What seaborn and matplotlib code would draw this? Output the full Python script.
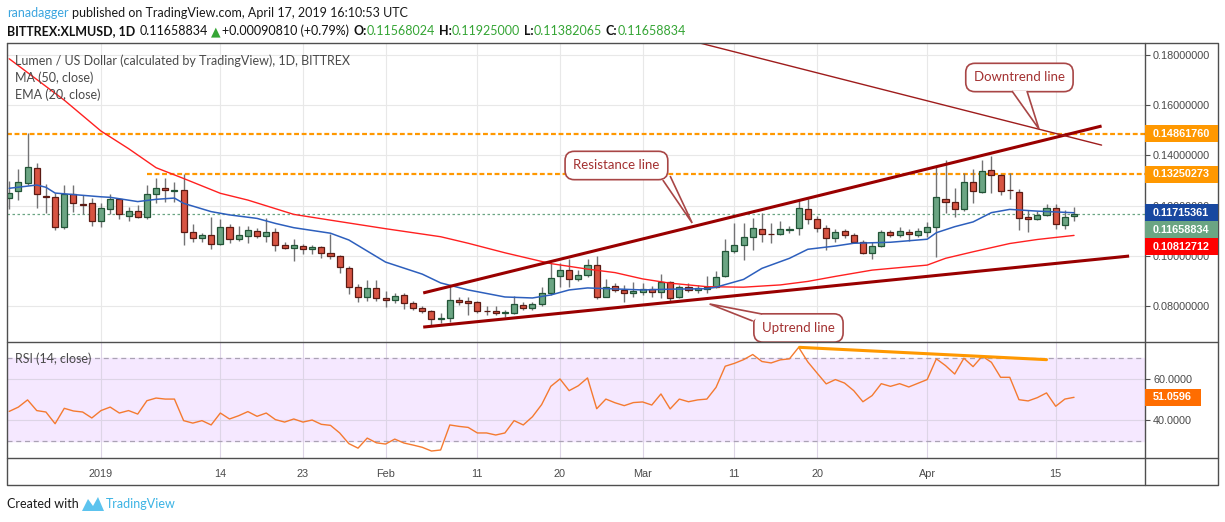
import numpy as np
import pandas as pd
import matplotlib.pyplot as plt
import seaborn as sns
from matplotlib.patches import Rectangle, Polygon
from matplotlib.lines import Line2D

W, H = 1225, 522

# ---- daily candles XLM/USD (Bittrex), Dec 22 2018 .. Apr 17 2019 ----
dates = pd.date_range("2018-12-22", "2019-04-17", freq="D")
opens = [
    0.1229, 0.1258, 0.1289, 0.1349, 0.1239, 0.1233, 0.1116, 0.1245, 0.1205, 0.1209,
    0.1137, 0.1185, 0.1225, 0.1160, 0.1177, 0.1153, 0.1245, 0.1269, 0.1260, 0.1261,
    0.1093, 0.1070, 0.1081, 0.1046, 0.1113, 0.1066, 0.1077, 0.1097, 0.1077, 0.1093,
    0.1042, 0.1030, 0.1038, 0.1026, 0.1034, 0.1010, 0.0999, 0.0950, 0.0874, 0.0835, 0.0870,
    0.0831, 0.0823, 0.0843, 0.0811, 0.0793, 0.0780, 0.0747, 0.0751, 0.0824, 0.0820,
    0.0815, 0.0781, 0.0780, 0.0773, 0.0771, 0.0804, 0.0791, 0.0808, 0.0851, 0.0920,
    0.0943, 0.0908, 0.0925, 0.0962, 0.0837, 0.0878, 0.0864, 0.0853,
    0.0857, 0.0866, 0.0854, 0.0894, 0.0835, 0.0874, 0.0862, 0.0866, 0.0874, 0.0920,
    0.1020, 0.1042, 0.1074, 0.1105, 0.1088, 0.1086, 0.1104, 0.1109, 0.1185, 0.1145,
    0.1109, 0.1070, 0.1097, 0.1082, 0.1056, 0.1010, 0.1039, 0.1094, 0.1084, 0.1094, 0.1084,
    0.1095, 0.1113, 0.1228, 0.1216, 0.1185, 0.1293, 0.1255, 0.1341, 0.1322, 0.1263,
    0.1255, 0.1156, 0.1147, 0.1163, 0.1189, 0.1124, 0.11568024,
]
highs = [
    0.1298, 0.1345, 0.1488, 0.1368, 0.1286, 0.1249, 0.1282, 0.1282, 0.1242, 0.1232,
    0.1209, 0.1246, 0.1229, 0.1193, 0.1202, 0.1282, 0.1309, 0.1309, 0.1295, 0.1326,
    0.1125, 0.1089, 0.1153, 0.1147, 0.1125, 0.1119, 0.1119, 0.1109, 0.1149, 0.1109,
    0.1056, 0.1067, 0.1046, 0.1042, 0.1039, 0.1085, 0.1003, 0.0959, 0.0888, 0.0904, 0.0904,
    0.0860, 0.0851, 0.0851, 0.0819, 0.0800, 0.0784, 0.0771, 0.0880, 0.0835, 0.0835,
    0.0821, 0.0800, 0.0800, 0.0784, 0.0840, 0.0817, 0.0817, 0.0877, 0.0970, 0.0973,
    0.0986, 0.0943, 0.0987, 0.0999, 0.0906, 0.0890, 0.0884, 0.0897,
    0.0893, 0.0880, 0.0926, 0.0900, 0.0884, 0.0890, 0.0884, 0.0920, 0.0941, 0.1066,
    0.1129, 0.1129, 0.1149, 0.1169, 0.1129, 0.1140, 0.1119, 0.1222, 0.1225, 0.1159,
    0.1123, 0.1105, 0.1105, 0.1090, 0.1063, 0.1056, 0.1103, 0.1103, 0.1116, 0.1105, 0.1109,
    0.1136, 0.1355, 0.1382, 0.1269, 0.1329, 0.1345, 0.1382, 0.1398, 0.1325, 0.1329,
    0.1265, 0.1182, 0.1180, 0.1206, 0.1206, 0.1182, 0.11925000,
]
lows = [
    0.1186, 0.1222, 0.1282, 0.1192, 0.1169, 0.1103, 0.1105, 0.1176, 0.1167, 0.1120,
    0.1116, 0.1165, 0.1145, 0.1140, 0.1149, 0.1145, 0.1209, 0.1216, 0.1216, 0.1043,
    0.1056, 0.1056, 0.1026, 0.1043, 0.1052, 0.1059, 0.1052, 0.1070, 0.1054, 0.1020,
    0.1026, 0.0981, 0.1007, 0.1007, 0.0993, 0.0986, 0.0930, 0.0848, 0.0817, 0.0821, 0.0821,
    0.0797, 0.0813, 0.0788, 0.0784, 0.0771, 0.0724, 0.0733, 0.0738, 0.0803, 0.0763,
    0.0773, 0.0763, 0.0763, 0.0757, 0.0768, 0.0784, 0.0784, 0.0800, 0.0844, 0.0874,
    0.0874, 0.0901, 0.0917, 0.0827, 0.0835, 0.0857, 0.0817, 0.0837,
    0.0844, 0.0835, 0.0831, 0.0821, 0.0831, 0.0857, 0.0853, 0.0851, 0.0870, 0.0914,
    0.1012, 0.0983, 0.1023, 0.1056, 0.1052, 0.1082, 0.1090, 0.1083, 0.1127, 0.1096,
    0.1023, 0.1056, 0.1070, 0.1050, 0.1007, 0.0986, 0.1036, 0.1074, 0.1074, 0.1060, 0.1074,
    0.1076, 0.0996, 0.1172, 0.1153, 0.1180, 0.1209, 0.1249, 0.1249, 0.1242, 0.1225,
    0.1103, 0.1096, 0.1143, 0.1159, 0.1105, 0.1105, 0.11382065,
]
closes = [
    0.1252, 0.1293, 0.1353, 0.1245, 0.1233, 0.1116, 0.1245, 0.1209, 0.1201, 0.1137,
    0.1189, 0.1225, 0.1167, 0.1177, 0.1153, 0.1245, 0.1269, 0.1261, 0.1262, 0.1093,
    0.1070, 0.1081, 0.1046, 0.1113, 0.1066, 0.1081, 0.1101, 0.1077, 0.1093, 0.1042,
    0.1030, 0.1042, 0.1026, 0.1034, 0.1010, 0.1000, 0.0954, 0.0874, 0.0835, 0.0870, 0.0831,
    0.0823, 0.0839, 0.0811, 0.0791, 0.0780, 0.0747, 0.0753, 0.0824, 0.0816, 0.0813,
    0.0780, 0.0779, 0.0771, 0.0777, 0.0807, 0.0791, 0.0807, 0.0851, 0.0910, 0.0943,
    0.0906, 0.0922, 0.0962, 0.0837, 0.0877, 0.0862, 0.0851, 0.0860,
    0.0866, 0.0854, 0.0894, 0.0833, 0.0874, 0.0862, 0.0870, 0.0874, 0.0917, 0.1020,
    0.1042, 0.1074, 0.1109, 0.1086, 0.1086, 0.1105, 0.1108, 0.1189, 0.1145, 0.1109,
    0.1072, 0.1094, 0.1082, 0.1056, 0.1010, 0.1039, 0.1094, 0.1082, 0.1097, 0.1086, 0.1097,
    0.1113, 0.1233, 0.1216, 0.1185, 0.1293, 0.1259, 0.1338, 0.1322, 0.1259, 0.1261,
    0.1149, 0.1148, 0.1164, 0.1189, 0.1127, 0.1156, 0.11658834,
]
rsi_vals = [
    44.2, 46.3, 49.8, 44.6, 43.9, 38.2, 45.7, 44.4, 43.9, 41.0,
    44.6, 46.3, 43.4, 44.6, 42.9, 49.4, 50.7, 50.2, 50.2, 39.7,
    38.5, 39.7, 37.6, 43.4, 40.5, 42.1, 44.1, 41.8, 43.4, 40.2,
    39.0, 40.5, 39.0, 40.0, 37.9, 37.4, 33.7, 28.5, 26.3, 31.2,
    28.9, 28.3, 30.7, 28.8, 27.8, 26.7, 24.9, 25.4, 37.6, 36.9,
    36.4, 33.7, 33.7, 32.7, 33.7, 39.7, 37.6, 41.6, 47.5, 56.4,
    60.0, 54.3, 56.7, 60.5, 45.5, 50.2, 48.4, 47.0, 48.5, 48.8,
    47.3, 52.7, 45.4, 50.2, 48.9, 49.8, 50.2, 55.9, 66.2, 67.6,
    69.4, 71.9, 68.5, 67.8, 69.3, 69.8, 75.4, 68.3, 62.9, 57.6,
    59.7, 58.0, 54.3, 48.9, 51.9, 57.7, 56.4, 57.7, 56.1, 57.9,
    59.7, 69.8, 66.5, 62.4, 70.1, 66.0, 71.1, 68.1, 60.8, 60.8,
    49.9, 49.3, 50.9, 53.2, 46.7, 50.2, 51.0596,
]

# moving averages
ma50_dates = [
    "2018-12-22", "2018-12-28", "2019-01-01", "2019-01-04", "2019-01-07", "2019-01-10",
    "2019-01-14", "2019-01-17", "2019-01-22", "2019-01-26", "2019-02-01", "2019-02-07",
    "2019-02-10", "2019-02-14", "2019-02-19", "2019-02-23", "2019-02-26", "2019-03-01",
    "2019-03-04", "2019-03-08", "2019-03-12", "2019-03-16", "2019-03-19", "2019-03-22",
    "2019-03-26", "2019-04-01", "2019-04-03", "2019-04-06", "2019-04-10", "2019-04-13",
    "2019-04-17",
]
ma50_vals = [
    0.1785, 0.1620, 0.1497, 0.1427, 0.1351, 0.1308,
    0.1249, 0.1222, 0.1165, 0.1142, 0.1108, 0.1076,
    0.1050, 0.1012, 0.0969, 0.0947, 0.0933, 0.0908,
    0.0891, 0.0877, 0.0875, 0.0884, 0.0898, 0.0918,
    0.0943, 0.0963, 0.0990, 0.1016, 0.1049, 0.1065,
    0.10812712,
]
ema20_dates = [
    "2018-12-22", "2018-12-25", "2018-12-26", "2018-12-27", "2018-12-30", "2019-01-01",
    "2019-01-02", "2019-01-05", "2019-01-07", "2019-01-09", "2019-01-10", "2019-01-13",
    "2019-01-15", "2019-01-18", "2019-01-20", "2019-01-22", "2019-01-26", "2019-01-28",
    "2019-02-01", "2019-02-05", "2019-02-07", "2019-02-10", "2019-02-14", "2019-02-17",
    "2019-02-19", "2019-02-21", "2019-02-23", "2019-02-26", "2019-03-01", "2019-03-04",
    "2019-03-08", "2019-03-09", "2019-03-12", "2019-03-14", "2019-03-17", "2019-03-19",
    "2019-03-22", "2019-03-24", "2019-03-28", "2019-04-01", "2019-04-02", "2019-04-04",
    "2019-04-06", "2019-04-08", "2019-04-10", "2019-04-13", "2019-04-17",
]
ema20_vals = [
    0.1269, 0.1282, 0.1273, 0.1250, 0.1241, 0.1235,
    0.1233, 0.1216, 0.1225, 0.1230, 0.1209, 0.1176,
    0.1163, 0.1149, 0.1129, 0.1112, 0.1090, 0.1063,
    0.0975, 0.0927, 0.0892, 0.0864, 0.0836, 0.0832,
    0.0844, 0.0864, 0.0872, 0.0868, 0.0864, 0.0867,
    0.0869, 0.0875, 0.0906, 0.0950, 0.0990, 0.1026,
    0.1039, 0.1050, 0.1054, 0.1066, 0.1092, 0.1116,
    0.1135, 0.1172, 0.1185, 0.1178, 0.11715361,
]

tick_dates = ["2019-01-01", "2019-01-14", "2019-01-23", "2019-02-01", "2019-02-11",
              "2019-02-20", "2019-03-01", "2019-03-11", "2019-03-20", "2019-04-01",
              "2019-04-15"]
tick_labels = ["2019", "14", "23", "Feb", "11", "20", "Mar", "11", "20", "Apr", "15"]
price_ticks = [0.08, 0.10, 0.12, 0.14, 0.16, 0.18]
rsi_ticks = [40, 60]

# hand drawn lines (days from 2019-01-01, price)
resistance_days, resistance_px = [35.1, 109.0], [0.0852, 0.1517]
uptrend_days, uptrend_px = [35.1, 112.0], [0.0716, 0.0999]
downtrend_days, downtrend_px = [65.2, 109.0], [0.1848, 0.1441]
level_hi, level_mid = 0.14861760, 0.13250273
level_mid_start = 5.0
divergence_days, divergence_rsi = [76.1, 103.0], [75.4, 69.4]

tag_values = [0.14861760, 0.13250273, 0.11715361, 0.11658834, 0.10812712]
tag_colors = ["#FF9800", "#FF9800", "#1848A0", "#6BA583", "#FF0000"]
rsi_last = 51.0596

# ---- helpers ----
origin = pd.Timestamp("2019-01-01")


def to_days(d):
    return ((pd.to_datetime(d) - origin) / pd.Timedelta(days=1))


x = np.asarray(to_days(dates), dtype=float)
o, h, l, c = map(np.asarray, (opens, highs, lows, closes))
up = c >= o

sns.set_theme(style="white")
plt.rcParams["font.family"] = ["Liberation Sans", "DejaVu Sans"]
TXT = ["Lato", "DejaVu Sans"]
BORDER = "#4f4f4f"
LBL = "#4a4a4a"

fig = plt.figure(figsize=(W / 100, H / 100), dpi=100)
fig.patch.set_facecolor("white")
ax = fig.add_axes([7 / W, 1 - 342 / H, 1138 / W, 299 / H])
axr = fig.add_axes([7 / W, 1 - 458 / H, 1138 / W, 116 / H])
XLIM = (-10.24, 113.73)

for a in (ax, axr):
    for s in a.spines.values():
        s.set_visible(False)
    a.set_xlim(*XLIM)
    a.set_xticks(to_days(tick_dates))
    a.yaxis.tick_right()
    a.set_axisbelow(True)

# ---- price pane ----
ax.set_ylim(0.06566, 0.18478)
ax.set_yticks(price_ticks)
ax.set_yticklabels([f"{v:.8f}" for v in price_ticks])
ax.set_xticklabels([])
ax.tick_params(axis="x", length=0)
ax.tick_params(axis="y", length=3.6, width=0.8, color=BORDER, pad=2.2,
               labelsize=7.8, labelcolor=LBL)
ax.grid(True, color="#e8e8e8", lw=0.8)

ax.hlines(level_hi, XLIM[0], XLIM[1], color="#FF9800", lw=1.6,
          linestyles=(0, (2.2, 1.2)), zorder=2)
ax.hlines(level_mid, level_mid_start, XLIM[1], color="#FF9800", lw=1.6,
          linestyles=(0, (2.2, 1.2)), zorder=2)
ax.hlines(closes[-1], XLIM[0], XLIM[1], color="#6BA583", lw=0.9,
          linestyles=(0, (2, 2)), zorder=1.5)

ax.vlines(x, l, h, color="#737375", lw=1.0, zorder=2.5)
ax.bar(x[up], (c - o)[up], bottom=o[up], width=0.66, color="#6BA583",
       edgecolor="#225437", lw=0.9, zorder=3)
ax.bar(x[~up], (o - c)[~up], bottom=c[~up], width=0.66, color="#D75442",
       edgecolor="#5B1A13", lw=0.9, zorder=3)

sns.lineplot(x=to_days(ma50_dates), y=ma50_vals, ax=ax, color="#FF2020", lw=1.0, zorder=4)
sns.lineplot(x=to_days(ema20_dates), y=ema20_vals, ax=ax, color="#2d5fbd", lw=1.1, zorder=4)

ax.plot(resistance_days, resistance_px, color="#990000", lw=2.2, zorder=5,
        solid_capstyle="butt")
ax.plot(uptrend_days, uptrend_px, color="#990000", lw=2.2, zorder=5,
        solid_capstyle="butt")
ax.plot(downtrend_days, downtrend_px, color="#9e1c1c", lw=1.0, zorder=5)
ax.set_xlabel("")
ax.set_ylabel("")

CALL_EC = "#a84646"


def callout(text, cx, cy, tail):
    ax.text(cx, cy, text, ha="center", va="center", fontsize=9.5, color="#a33131",
            family=TXT, zorder=8, clip_on=True,
            bbox=dict(boxstyle="round,pad=0.62,rounding_size=0.7", fc="white",
                      ec=CALL_EC, lw=1.2))
    ax.add_patch(Polygon(tail, closed=False, fc="white", ec=CALL_EC, lw=1.2,
                         zorder=9, clip_on=True))


callout("Downtrend line", 100.05, 0.17104,
        [(99.24, 0.16566), (102.18, 0.15052), (100.87, 0.16566)])
callout("Resistance line", 56.15, 0.13598,
        [(61.2, 0.1302), (64.4, 0.11307), (62.0, 0.13179)])
callout("Uptrend line", 75.98, 0.07124,
        [(71.0, 0.07402), (66.3, 0.08080), (72.0, 0.07681)])

# ---- RSI pane ----
axr.set_ylim(21.5, 78.0)
axr.axhspan(30, 70, color="#F5E8FF", zorder=0)
axr.set_yticks(rsi_ticks)
axr.set_yticklabels([f"{v:.4f}" for v in rsi_ticks])
axr.set_xticklabels(tick_labels)
axr.grid(True, color="#ddd5e6", lw=0.8)
for lvl in (70, 30):
    axr.axhline(lvl, color="#aaa2b4", lw=0.9, ls=(0, (4, 3)), zorder=1)
axr.tick_params(axis="y", length=3.6, width=0.8, color=BORDER, pad=2.2,
                labelsize=7.8, labelcolor=LBL)
axr.tick_params(axis="x", length=3.0, width=0.8, color=BORDER, pad=5,
                labelsize=7.8, labelcolor=LBL)
sns.lineplot(x=x, y=rsi_vals, ax=axr, color="#F47A30", lw=1.0, zorder=3)
axr.plot(divergence_days, divergence_rsi, color="#FF9800", lw=2.2, zorder=4)
axr.set_xlabel("")
axr.set_ylabel("")

# ---- frame ----


def fline(xs, ys):
    fig.add_artist(Line2D([v / W for v in xs], [1 - v / H for v in ys],
                          transform=fig.transFigure, color=BORDER, lw=1.0))


fline([6.5, 1218, 1218, 6.5, 6.5], [43, 43, 485, 485, 43])
fline([1145, 1145], [43, 485])
fline([6.5, 1218], [342, 342])
fline([6.5, 1218], [458, 458])

# ---- last value tags on the right axis ----


def tag(y_px, x0, x1, text, color):
    fig.add_artist(Rectangle((x0 / W, 1 - (y_px + 8.5) / H), (x1 - x0) / W, 17 / H,
                             transform=fig.transFigure, fc=color, ec="none", zorder=5))
    fig.text((x0 + 8) / W, 1 - y_px / H, text, color="white", fontweight="bold",
             fontsize=7.8, va="center", ha="left", zorder=6)


prev = -1e9
for v, col in zip(tag_values, tag_colors):
    y_px = H - ax.transData.transform((0, v))[1]
    y_px = max(y_px, prev + 17)
    prev = y_px
    tag(y_px, 1145, 1218, f"{v:.8f}", col)
tag(H - axr.transData.transform((0, rsi_last))[1], 1145, 1201, f"{rsi_last:.4f}", "#FF6D00")

# ---- legends / header / footer ----
for i, s in enumerate(["Lumen / US Dollar (calculated by TradingView), 1D, BITTREX",
                       "MA (50, close)", "EMA (20, close)"]):
    fig.text(15 / W, 1 - (61 + 17 * i) / H, s, family=TXT, fontsize=9, color=LBL,
             va="center", ha="left", zorder=10)
fig.text(15 / W, 1 - 359 / H, "RSI (14, close)", family=TXT, fontsize=9, color=LBL,
         va="center", ha="left", zorder=10)

renderer = fig.canvas.get_renderer()


def row(x_px, y_px, pieces, size):
    xx = x_px
    for txt, col, wt, gap in pieces:
        t = fig.text(xx / W, 1 - y_px / H, txt, color=col, fontweight=wt, fontsize=size,
                     family=TXT, va="center", ha="left")
        xx += t.get_window_extent(renderer).width + gap


GREEN = "#35a535"
row(7, 13, [("ranadagger", "#3ba5df", "normal", 3.5),
            ("published on TradingView.com, April 17, 2019 16:10:53 UTC", "#1a1a1a", "normal", 0)], 9)
row(7, 31, [("BITTREX:XLMUSD, 1D", "#111111", "bold", 4),
            ("0.11658834", "#111111", "normal", 3),
            ("\u25B2", GREEN, "normal", 2),
            ("+0.00090810 (+0.79%)", "#111111", "normal", 4),
            ("O:", "#111111", "bold", 0), ("0.11568024", GREEN, "normal", 4),
            ("H:", "#111111", "bold", 0), ("0.11925000", GREEN, "normal", 4),
            ("L:", "#111111", "bold", 0), ("0.11382065", GREEN, "normal", 4),
            ("C:", "#111111", "bold", 0), ("0.11658834", GREEN, "normal", 0)], 9)

fig.text(7 / W, 1 - 504 / H, "Created with", family=TXT, fontsize=9, color="#1a1a1a",
         va="center", ha="left")
fig.add_artist(Polygon([(82 / W, 1 - 511 / H), (88 / W, 1 - 499 / H), (93 / W, 1 - 506 / H),
                        (98 / W, 1 - 497 / H), (104 / W, 1 - 511 / H)],
                       closed=True, transform=fig.transFigure, fc="#5cc3ee", ec="none"))
fig.text(106 / W, 1 - 504 / H, "TradingView", family=TXT, fontsize=9, color="#3BB3E4",
         va="center", ha="left")

fig.savefig("out.png", dpi=100, facecolor="white")
